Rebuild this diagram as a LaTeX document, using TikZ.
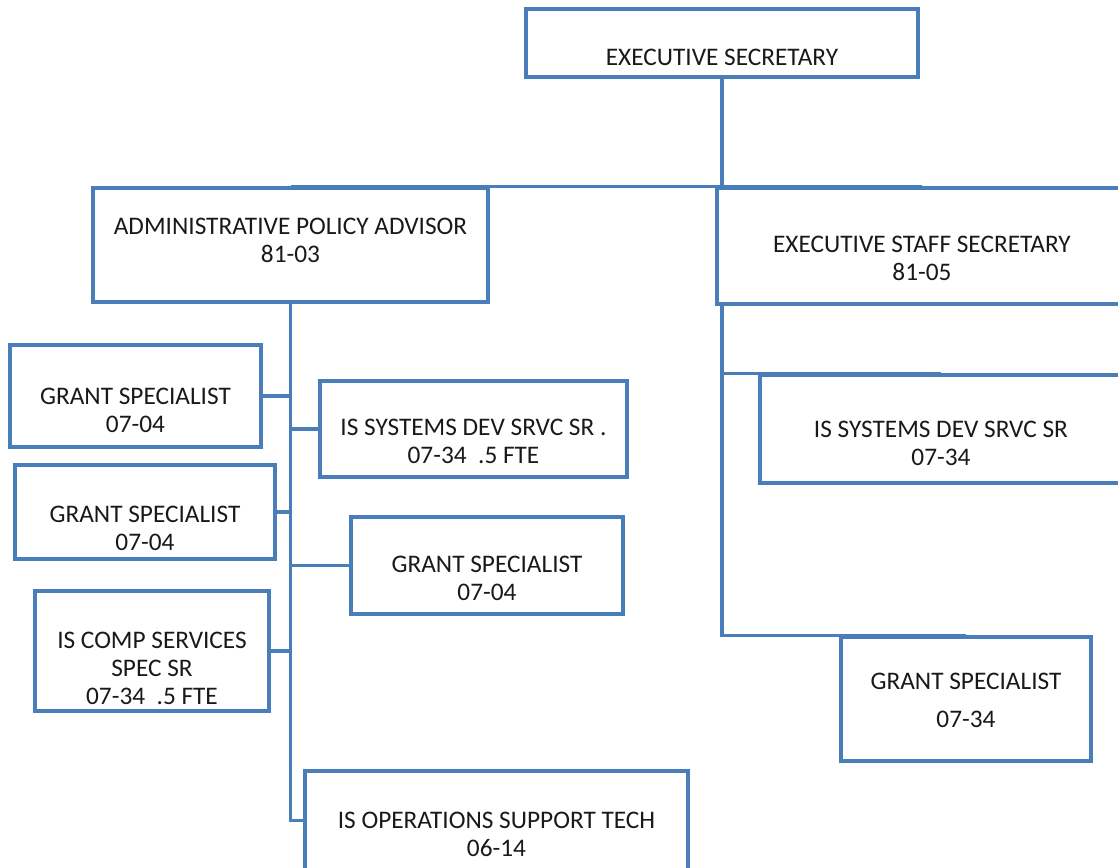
\documentclass[tikz,border=0pt]{standalone}
\usepackage{fontspec}
\setmainfont{Carlito}
\definecolor{orgblue}{HTML}{4A7EBB}
\newcommand{\postfont}{\fontsize{14.4}{16}\selectfont}

\begin{document}
\begin{tikzpicture}[x=0.02cm, y=-0.02cm,
	dims/.style 2 args={minimum width=#1*0.02cm, minimum height=#2*0.02cm}]
\tikzstyle{post}=[draw=orgblue, line width=2pt, inner sep=0pt]
\tikzstyle{caption}=[align=center, font=\postfont, text=black!90]
\tikzstyle{link}=[draw=orgblue, line width=1.8pt]

\useasboundingbox (0,0) rectangle (1118,868);
\clip (0,0) rectangle (1118,868);

% top
\node[post, dims={392}{68}, label={[caption, yshift=-14*0.02cm]center:EXECUTIVE SECRETARY}] (es) at (722,43) {};

% second level
\node[post, dims={395}{114}, label={[caption, yshift=5*0.02cm]center:ADMINISTRATIVE POLICY ADVISOR\\81-03}] (apa) at (290.5,245) {};
\node[post, dims={410}{116}, label={[caption, yshift=-12*0.02cm]center:EXECUTIVE STAFF SECRETARY\\81-05}] (ess) at (922,246) {};

% under the policy advisor
\node[post, dims={251}{102}, label={[caption, yshift=-14*0.02cm]center:GRANT SPECIALIST\\07-04}] (gsa) at (135.5,396) {};
\node[post, dims={307}{96}, label={[caption, yshift=-12*0.02cm]center:IS SYSTEMS DEV SRVC SR .\\07-34\ \ .5 FTE}] (issl) at (473.5,429) {};
\node[post, dims={260}{94}, label={[caption, yshift=-16*0.02cm]center:GRANT SPECIALIST\\07-04}] (gsb) at (145,512) {};
\node[post, dims={272}{97}, label={[caption, yshift=-13*0.02cm]center:GRANT SPECIALIST\\07-04}] (gsc) at (487,565.5) {};
\node[post, dims={234}{120}, label={[caption, yshift=-17*0.02cm]center:IS COMP SERVICES\\SPEC SR\\07-34\ \ .5 FTE}] (isc) at (152,651) {};
\node[post, dims={383}{99}, label={[caption, yshift=-14*0.02cm]center:IS OPERATIONS SUPPORT TECH\\06-14}] (iso) at (496.5,820.5) {};

% under the staff secretary
\node[post, dims={362}{108}, label={[caption, yshift=-14*0.02cm]center:IS SYSTEMS DEV SRVC SR\\07-34}] (issr) at (941,429) {};
\node[post, dims={250}{124}, label={[caption, yshift=-1*0.02cm]center:GRANT SPECIALIST\\[0.2cm]07-34}] (gsd) at (966,699) {};

% lines
\draw[link] (es.south) -- (es.south |- ess.north);
\draw[link] (apa.north) -- (ess.north);
\draw[link] (apa.south) |- (iso.west);
\draw[link] (gsa.east) -- (gsa.east -| apa.south);
\draw[link] (issl.west) -- (issl.west -| apa.south);
\draw[link] (gsb.east) -- (gsb.east -| apa.south);
\draw[link] (gsc.west) -- (gsc.west -| apa.south);
\draw[link] (isc.east) -- (isc.east -| apa.south);
\draw[link] (es.south |- ess.south) |- (gsd.north);
\draw[link] (es.south |- issr.north) -- (issr.north);
\end{tikzpicture}
\end{document}
